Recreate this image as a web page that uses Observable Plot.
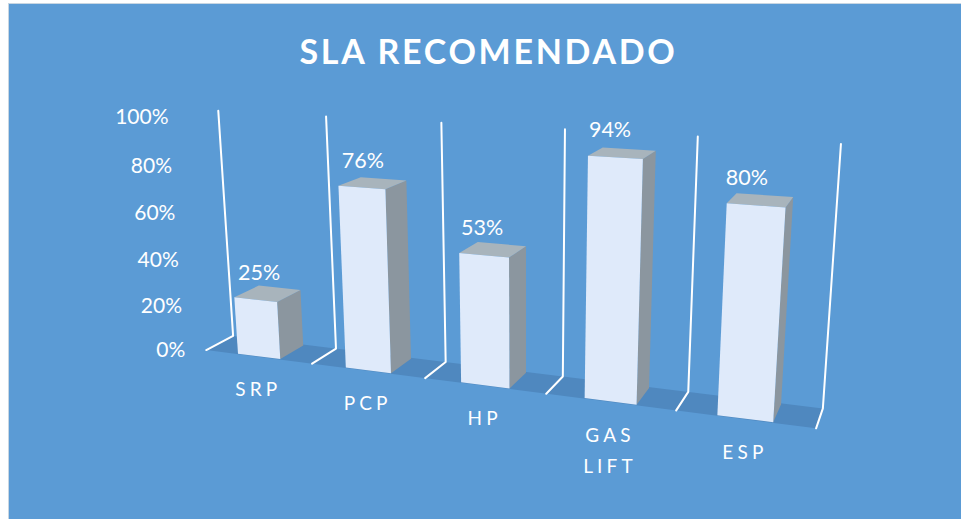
<!doctype html>
<html><head><meta charset="utf-8">
<script src="https://cdn.jsdelivr.net/npm/d3@7"></script>
<script src="https://cdn.jsdelivr.net/npm/@observablehq/plot@0.6"></script>
<style>
html,body{margin:0;background:#fff;overflow:hidden}
#panel{position:absolute;left:8px;top:3px;width:953px;height:516px;background:#5b9bd5;border-left:1px solid #c8d6e2;border-top:1px solid #c8d6e2;box-sizing:border-box}
#chart{position:absolute;left:0;top:0}
#title{position:absolute;left:0;top:29px;width:977px;text-align:center;color:#fff;font:700 34px Lato,sans-serif;letter-spacing:.08em;line-height:44px;white-space:nowrap}
.cat text{letter-spacing:.22em}
</style></head><body>
<div id="panel"></div>
<div id="chart"></div>
<div id="title">SLA RECOMENDADO</div>
<script>
const categories=["SRP","PCP","HP","GAS\nLIFT","ESP"];
const values=[25,76,53,94,80];
const ticks=[0,20,40,60,80,100];
const W=961,H=519;
// Camera of the 3D chart: category position u, height h (0–1), depth d (0–1)
const cam={ox:205.79229,ux:95.82947,hx:-26.24477,dx:35.13294,oy:349.55866,uy:1.94849,hy:-238.66929,dy:-2.12402,pu:-0.03204,ph:-0.05005,pd:0.03581};
const project=(u,h,d)=>{const w=1+cam.pu*u+cam.ph*h+cam.pd*d;return {x:(cam.ox+cam.ux*u+cam.hx*h+cam.dx*d)/w,y:(cam.oy+cam.uy*u+cam.hy*h+cam.dy*d)/w};};
const barLo=0.3,barHi=0.7,dFront=0.025,dBack=0.95;
const poly=(id,pts)=>pts.map(([u,h,d])=>({id,...project(u,h,d)}));
const n=categories.length;
const floor=poly("floor",[[0,0,0],[n,0,0],[n,0,1],[0,0,1]]);
const walls=d3.range(n+1).flatMap(i=>poly(i,[[i,0,0],[i,0,1],[i,1,1]]));
const front=[],side=[],topFace=[];
values.forEach((v,i)=>{const h=v/100,a=i+barLo,b=i+barHi;
  front.push(...poly(i,[[a,0,dFront],[b,0,dFront],[b,h,dFront],[a,h,dFront]]));
  side.push(...poly(i,[[b,0,dFront],[b,0,dBack],[b,h,dBack],[b,h,dFront]]));
  topFace.push(...poly(i,[[a,h,dFront],[b,h,dFront],[b,h,dBack],[a,h,dBack]]));
});
const valueLabels=values.map((v,i)=>({t:v+"%",...project(.54+.975*i,v/100,0)}));
const catLabels=categories.map((c,i)=>({t:c,...project(i+.5,0,0)}));
const tickLabels=ticks.map(t=>({t:t+"%",...project(0,t/100,0)}));
const face=(data,fill)=>Plot.line(data,{x:"x",y:"y",z:"id",fill,stroke:"none"});
const font={fontFamily:"Lato, sans-serif",fill:"#fff"};
const plot=Plot.plot({width:W,height:H,margin:0,
  x:{domain:[0,W],range:[0,W],axis:null},
  y:{domain:[0,H],range:[0,H],axis:null},
  style:{background:"transparent"},
  marks:[
    face(floor,"#4f88bf"),
    Plot.line(walls,{x:"x",y:"y",z:"id",stroke:"#fff",strokeWidth:2,strokeLinejoin:"round"}),
    face(side,"#8b969f"),
    face(topFace,"#a8b4bc"),
    face(front,"#dfeafa"),
    Plot.text(tickLabels,{x:"x",y:"y",text:"t",dx:-21,dy:.5,textAnchor:"end",fontSize:21,...font}),
    Plot.text(valueLabels,{x:"x",y:"y",text:"t",dy:-27,fontSize:21.5,...font}),
    Plot.text(catLabels,{x:"x",y:"y",text:"t",dy:17,lineAnchor:"top",lineHeight:1.68,fontSize:19,className:"cat",...font})
  ]});
document.getElementById("chart").append(plot);
</script></body></html>
